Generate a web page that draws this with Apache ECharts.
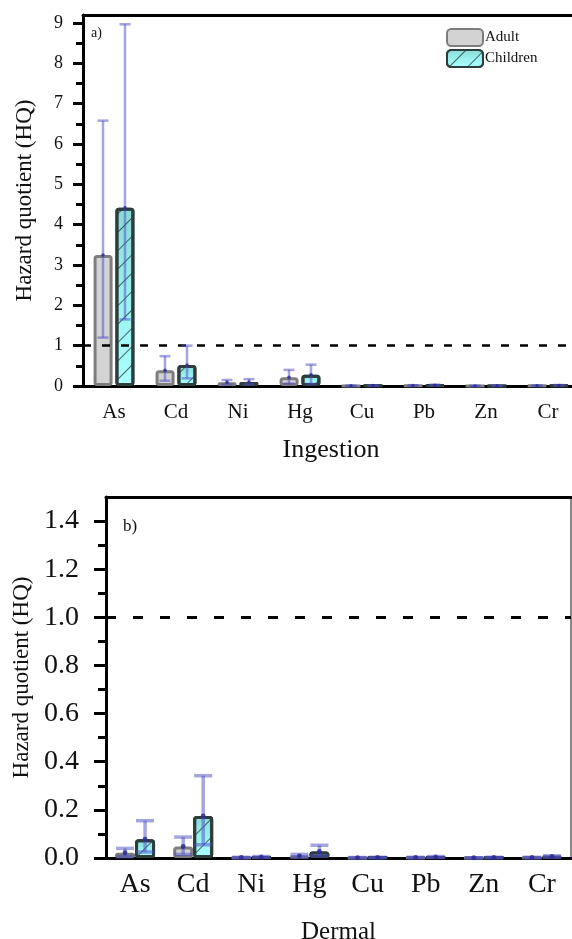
<!DOCTYPE html>
<html>
<head>
<meta charset="utf-8">
<script src="https://cdn.jsdelivr.net/npm/echarts@6/dist/echarts.min.js"></script>
<style>
  html, body { margin: 0; padding: 0; background: #fff; }
  #chart { width: 572px; height: 939px; }
</style>
</head>
<body>
<div id="chart"></div>
<script>
// categories
const metals = ["As", "Cd", "Ni", "Hg", "Cu", "Pb", "Zn", "Cr"];

// ingestion HQ (mean, error low, error high)
const ingAdult = [3.25, 0.39, 0.09, 0.22, 0.005, 0.01, 0.003, 0.008];
const ingAdultLow = [1.2, 0.13, 0.04, 0.06, 0.003, 0.005, 0.002, 0.004];
const ingAdultHigh = [6.58, 0.74, 0.15, 0.4, 0.008, 0.02, 0.004, 0.012];
const ingChild = [4.42, 0.52, 0.1, 0.28, 0.01, 0.02, 0.005, 0.015];
const ingChildLow = [1.65, 0.19, 0.04, 0.05, 0.005, 0.01, 0.003, 0.008];
const ingChildHigh = [8.97, 1.0, 0.17, 0.53, 0.015, 0.035, 0.007, 0.025];

// dermal HQ
const derAdult = [0.022, 0.048, 0.002, 0.008, 0.001, 0.002, 0.001, 0.002];
const derAdultLow = [0.005, 0.015, 0.001, 0.003, 0.0005, 0.001, 0.0005, 0.001];
const derAdultHigh = [0.04, 0.087, 0.003, 0.015, 0.002, 0.003, 0.001, 0.003];
const derChild = [0.078, 0.175, 0.004, 0.027, 0.002, 0.004, 0.002, 0.006];
const derChildLow = [0.025, 0.055, 0.002, 0.008, 0.001, 0.002, 0.001, 0.003];
const derChildHigh = [0.155, 0.342, 0.006, 0.053, 0.003, 0.006, 0.003, 0.009];

// tick labels
const ingTicks = [0, 1, 2, 3, 4, 5, 6, 7, 8, 9];
const ingMinor = [0.5, 1.5, 2.5, 3.5, 4.5, 5.5, 6.5, 7.5, 8.5];
const derTicks = [0, 0.2, 0.4, 0.6, 0.8, 1.0, 1.2, 1.4];
const derMinor = [0.1, 0.3, 0.5, 0.7, 0.9, 1.1, 1.3];
const threshold = 1;

const FONT = "Liberation Serif";
const hatch = {
    symbol: "rect",
    symbolSize: 1,
    dashArrayX: [[1, 0]],
    dashArrayY: [1, 12],
    rotation: -Math.PI / 4,
    color: "rgba(20,40,40,0.7)",
    backgroundColor: null,
};
const childFill = new echarts.graphic.LinearGradient(0, 0, 0, 1, [
    { offset: 0, color: "#8ad9d7" },
    { offset: 0.5, color: "#9af1ef" },
    { offset: 1, color: "#aaffff" },
]);
const adultStyle = { color: "#d3d3d3", borderColor: "#7d7d7d", borderWidth: 3, borderRadius: 2 };
const childStyle = { color: childFill, borderColor: "#2c3d3c", borderWidth: 3, borderRadius: 2, decal: hatch };

function errData(low, high, mean) {
    return mean.map((m, i) => [i, low[i], high[i], m]);
}

function errSeries(name, xi, yi, data, shift, capW, lw) {
    return {
        type: "custom",
        name: name,
        xAxisIndex: xi,
        yAxisIndex: yi,
        z: 5,
        silent: true,
        encode: { x: 0, y: [1, 2] },
        data: data,
        renderItem: function (params, api) {
            const lo = api.coord([api.value(0), api.value(1)]);
            const hi = api.coord([api.value(0), api.value(2)]);
            const md = api.coord([api.value(0), api.value(3)]);
            const x = lo[0] + shift;
            const st = { stroke: "rgba(75,75,195,0.5)", lineWidth: lw };
            return {
                type: "group",
                children: [
                    { type: "line", shape: { x1: x, y1: lo[1], x2: x, y2: hi[1] }, style: st },
                    { type: "line", shape: { x1: x - capW / 2, y1: hi[1], x2: x + capW / 2, y2: hi[1] }, style: st },
                    { type: "line", shape: { x1: x - capW / 2, y1: lo[1], x2: x + capW / 2, y2: lo[1] }, style: st },
                    { type: "circle", shape: { cx: x, cy: md[1], r: lw * 0.7 }, style: { fill: "rgba(40,40,150,0.8)" } },
                ],
            };
        },
    };
}

const axisTxt = { color: "#111", fontFamily: FONT };
const dashed = (w, pattern) => ({
    silent: true,
    symbol: "none",
    label: { show: false },
    lineStyle: { color: "#000", width: w, type: pattern },
    data: [{ yAxis: threshold }],
});

let myChart = echarts.init(document.getElementById("chart"));
myChart.setOption({
    animation: false,
    textStyle: { fontFamily: FONT },
    grid: [
        { left: 83, right: -7, top: 15, bottom: 553, outerBoundsMode: "none" },
        { left: 106, right: 1, top: 497, bottom: 81, outerBoundsMode: "none" },
    ],
    legend: {
        orient: "vertical",
        left: 441,
        top: 23,
        itemWidth: 36,
        itemHeight: 17,
        itemGap: 2,
        textStyle: { fontSize: 15, color: "#111", fontFamily: FONT, padding: [0, 0, 0, -3] },
        data: ["Adult", "Children"],
    },
    xAxis: [
        {
            gridIndex: 0,
            type: "category",
            data: metals,
            axisLine: { lineStyle: { color: "#000", width: 3 } },
            axisTick: { show: false },
            axisLabel: Object.assign({ fontSize: 21, margin: 16 }, axisTxt),
            name: "Ingestion",
            nameLocation: "middle",
            nameGap: 51,
            nameTextStyle: Object.assign({ fontSize: 26 }, axisTxt),
        },
        {
            gridIndex: 0,
            type: "category",
            data: metals,
            position: "top",
            axisLine: { onZero: false, lineStyle: { color: "#000", width: 3 } },
            axisTick: { show: false },
            axisLabel: { show: false },
        },
        {
            gridIndex: 1,
            type: "category",
            data: metals,
            axisLine: { lineStyle: { color: "#000", width: 3 } },
            axisTick: { show: false },
            axisLabel: Object.assign({ fontSize: 28, margin: 13 }, axisTxt),
            name: "Dermal",
            nameLocation: "middle",
            nameGap: 62,
            nameTextStyle: Object.assign({ fontSize: 25 }, axisTxt),
        },
        {
            gridIndex: 1,
            type: "category",
            data: metals,
            position: "top",
            axisLine: { onZero: false, lineStyle: { color: "#000", width: 3 } },
            axisTick: { show: false },
            axisLabel: { show: false },
        },
    ],
    yAxis: [
        {
            gridIndex: 0,
            type: "value",
            min: 0,
            max: 9.2,
            axisLine: { show: true, lineStyle: { color: "#000", width: 3 } },
            axisTick: { show: true, customValues: ingTicks, length: 10, lineStyle: { width: 3 } },
            axisLabel: Object.assign({ customValues: ingTicks, fontSize: 18, margin: 20 }, axisTxt),
            splitLine: { show: false },
            name: "Hazard quotient (HQ)",
            nameLocation: "middle",
            nameGap: 47,
            nameTextStyle: Object.assign({ fontSize: 23 }, axisTxt),
        },
        {
            gridIndex: 0,
            type: "value",
            min: 0,
            max: 9.2,
            position: "left",
            axisLine: { show: false },
            axisTick: { show: true, customValues: ingMinor, length: 7, lineStyle: { width: 3, color: "#000" } },
            axisLabel: { show: false },
            splitLine: { show: false },
        },
        {
            gridIndex: 1,
            type: "value",
            min: 0,
            max: 1.5,
            axisLine: { show: true, lineStyle: { color: "#000", width: 3 } },
            axisTick: { show: true, customValues: derTicks, length: 12, lineStyle: { width: 3 } },
            axisLabel: Object.assign({
                customValues: derTicks,
                fontSize: 28,
                margin: 27,
                formatter: (v) => v.toFixed(1),
            }, axisTxt),
            splitLine: { show: false },
            name: "Hazard quotient (HQ)",
            nameLocation: "middle",
            nameGap: 71,
            nameTextStyle: Object.assign({ fontSize: 23 }, axisTxt),
        },
        {
            gridIndex: 1,
            type: "value",
            min: 0,
            max: 1.5,
            position: "left",
            axisLine: { show: false },
            axisTick: { show: true, customValues: derMinor, length: 8, lineStyle: { width: 3, color: "#000" } },
            axisLabel: { show: false },
            splitLine: { show: false },
        },
        {
            gridIndex: 1,
            type: "value",
            min: 0,
            max: 1.5,
            position: "right",
            axisLine: { show: true, lineStyle: { color: "#888", width: 2 } },
            axisTick: { show: false },
            axisLabel: { show: false },
            splitLine: { show: false },
        },
    ],
    graphic: [
        { type: "text", left: 91, top: 26, style: { text: "a)", fontSize: 14, fontFamily: FONT, fill: "#111" } },
        { type: "text", left: 123, top: 518, style: { text: "b)", fontSize: 17, fontFamily: FONT, fill: "#111" } },
    ],
    series: [
        {
            type: "bar",
            name: "Adult",
            xAxisIndex: 0,
            yAxisIndex: 0,
            barWidth: 19,
            barGap: "15%",
            itemStyle: adultStyle,
            data: ingAdult,
            markLine: dashed(2.5, [8, 11]),
        },
        {
            type: "bar",
            name: "Children",
            xAxisIndex: 0,
            yAxisIndex: 0,
            barWidth: 19,
            barGap: "15%",
            itemStyle: childStyle,
            data: ingChild,
        },
        errSeries("errA1", 0, 0, errData(ingAdultLow, ingAdultHigh, ingAdult), -11, 11, 2.5),
        errSeries("errC1", 0, 0, errData(ingChildLow, ingChildHigh, ingChild), 11, 11, 2.5),
        {
            type: "bar",
            name: "Adult",
            xAxisIndex: 2,
            yAxisIndex: 2,
            barWidth: 20,
            barGap: "0%",
            itemStyle: adultStyle,
            data: derAdult,
            markLine: dashed(3, [10, 17]),
        },
        {
            type: "bar",
            name: "Children",
            xAxisIndex: 2,
            yAxisIndex: 2,
            barWidth: 20,
            barGap: "0%",
            itemStyle: childStyle,
            data: derChild,
        },
        errSeries("errA2", 2, 2, errData(derAdultLow, derAdultHigh, derAdult), -10, 18, 3.5),
        errSeries("errC2", 2, 2, errData(derChildLow, derChildHigh, derChild), 10, 18, 3.5),
    ],
});
window.onresize = function () {
    myChart.resize();
};
</script>
</body>
</html>
